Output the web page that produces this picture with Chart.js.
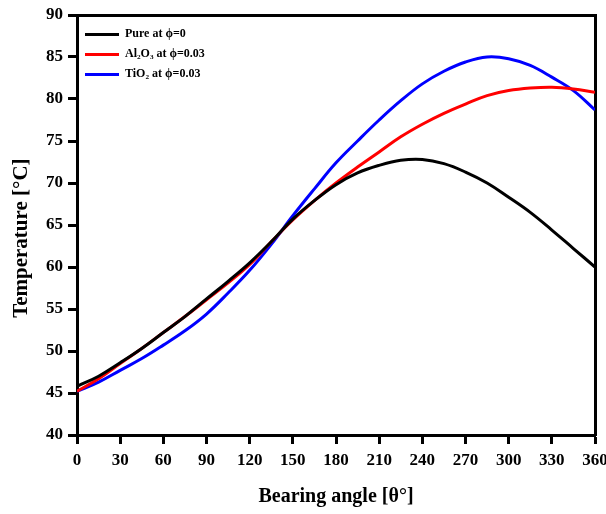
<!DOCTYPE html>
<html>
<head>
<meta charset="utf-8">
<script src="https://cdn.jsdelivr.net/npm/chart.js@4.4.1/dist/chart.umd.min.js"></script>
<style>
  html, body { margin: 0; padding: 0; background: #fff; }
  #wrap { width: 606px; height: 514px; }
</style>
</head>
<body>
<div id="wrap"><canvas id="tempChart" width="606" height="514"></canvas></div>
<script>
// bearing angle (deg)
const angles = [0, 15, 30, 45, 60, 75, 90, 105, 120, 135, 150, 165, 180,
  195, 210, 225, 240, 255, 270, 285, 300, 315, 330, 345, 360];

// temperature readings (deg C)
const pureTemp = [45.8, 47.0, 48.6, 50.3, 52.2, 54.1, 56.2, 58.3, 60.5, 63.0, 65.7, 67.9, 69.8,
  71.2, 72.1, 72.7, 72.8, 72.3, 71.3, 70.0, 68.3, 66.5, 64.4, 62.2, 60.0];
const al2o3Temp = [45.2, 46.7, 48.5, 50.3, 52.2, 54.1, 56.1, 58.1, 60.3, 63.0, 65.6, 67.9, 70.0,
  71.9, 73.7, 75.5, 77.0, 78.3, 79.4, 80.4, 81.0, 81.3, 81.4, 81.2, 80.8];
const tio2Temp = [45.2, 46.3, 47.7, 49.1, 50.7, 52.4, 54.4, 56.9, 59.6, 62.7, 66.1, 69.3, 72.4,
  75.0, 77.5, 79.8, 81.8, 83.3, 84.4, 85.0, 84.8, 84.0, 82.6, 81.0, 78.7];

const seriesNames = ['Pure at \u03D5=0', 'Al\u2082O\u2083 at \u03D5=0.03', 'TiO\u2082 at \u03D5=0.03'];
const seriesColors = ['#000000', '#ff0000', '#0000ff'];

const serif = "'Liberation Serif', 'Times New Roman', serif";

function toPoints(values) {
  return angles.map((a, i) => ({ x: a, y: values[i] }));
}

function makeDataset(idx, values) {
  return {
    label: seriesNames[idx],
    data: toPoints(values),
    borderColor: seriesColors[idx],
    backgroundColor: seriesColors[idx],
    borderWidth: 3,
    pointRadius: 0,
    tension: 0.4,
    fill: false
  };
}

const ctx = document.getElementById('tempChart');
const chart = new Chart(ctx, {
  type: 'line',
  data: {
    datasets: [
      makeDataset(0, pureTemp),
      makeDataset(1, al2o3Temp),
      makeDataset(2, tio2Temp)
    ]
  },
  options: {
    responsive: false,
    animation: false,
    layout: { padding: { left: 0, top: 15, right: 11, bottom: 0 } },
    plugins: {
      tooltip: { enabled: false },
      legend: {
        position: 'chartArea',
        align: 'start',
        title: { display: true, text: ' ', padding: 6, font: { size: 7 } },
        labels: {
          usePointStyle: true,
          pointStyleWidth: 34,
          pointStyle: 'line',
          boxHeight: 12,
          padding: 8,
          color: '#000',
          font: { family: serif, size: 12, weight: 'bold' }
        }
      }
    },
    scales: {
      x: {
        type: 'linear',
        min: 0,
        max: 360,
        afterFit: s => { s.height = 79; s.paddingLeft = 0; s.paddingRight = 0; },
        ticks: {
          stepSize: 30,
          padding: 6,
          color: '#000',
          maxRotation: 0,
          font: { family: serif, size: 17, weight: 'bold' }
        },
        grid: { drawOnChartArea: false, tickLength: 9, tickWidth: 3, tickColor: '#000' },
        border: { color: '#000', width: 3 },
        title: {
          display: true,
          text: 'Bearing angle [\u03B8\u00B0]',
          color: '#000',
          padding: { top: 0, bottom: 5 },
          font: { family: serif, size: 20, weight: 'bold' }
        }
      },
      y: {
        min: 40,
        max: 90,
        afterFit: s => { s.width = 77; s.paddingTop = 0; s.paddingBottom = 0; },
        ticks: {
          stepSize: 5,
          padding: 5,
          color: '#000',
          font: { family: serif, size: 17, weight: 'bold' }
        },
        grid: { drawOnChartArea: false, tickLength: 9, tickWidth: 3, tickColor: '#000' },
        border: { color: '#000', width: 3 },
        title: {
          display: true,
          // trailing spaces push the rotated text a little down, as in the original
          text: 'Temperature [\u00B0C]\u00A0\u00A0\u00A0\u00A0\u00A0',
          color: '#000',
          padding: { top: 9, bottom: 0 },
          font: { family: serif, size: 21, weight: 'bold' }
        }
      },
      xTop: {
        type: 'linear',
        position: 'top',
        min: 0,
        max: 360,
        afterFit: s => { s.height = 0; },
        ticks: { display: false },
        grid: { display: false },
        border: { color: '#000', width: 3 }
      },
      yRight: {
        type: 'linear',
        position: 'right',
        min: 40,
        max: 90,
        afterFit: s => { s.width = 0; },
        ticks: { display: false },
        grid: { display: false },
        border: { color: '#000', width: 3 }
      }
    }
  }
});
</script>
</body>
</html>
